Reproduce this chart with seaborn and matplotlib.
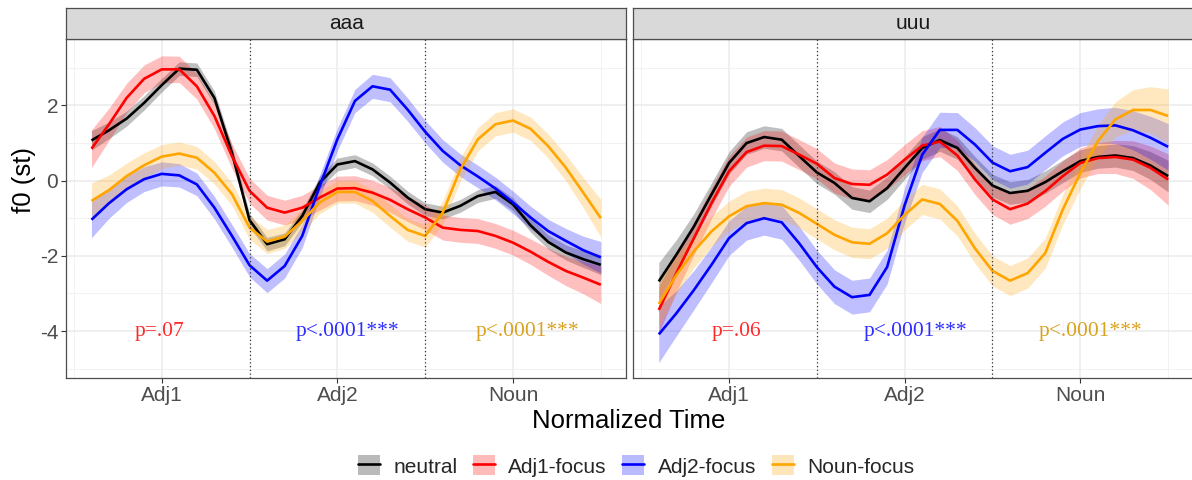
import numpy as np
import pandas as pd
import matplotlib
matplotlib.use("Agg")
import matplotlib.pyplot as plt
import seaborn as sns
from matplotlib.patches import Patch
from matplotlib.lines import Line2D
from matplotlib.legend_handler import HandlerTuple

# ---------------- data ----------------
facets = ["aaa", "uuu"]
focus_levels = ["neutral", "Adj1-focus", "Adj2-focus", "Noun-focus"]
time_points = list(range(1, 31))
tick_positions = [5, 15, 25]
tick_labels = ["Adj1", "Adj2", "Noun"]
boundaries = [10, 20]

aaa_neutral = [1.07, 1.34, 1.65, 2.07, 2.54, 2.98, 2.95, 2.20, 0.74, -1.05,
               -1.69, -1.56, -0.94, -0.05, 0.43, 0.52, 0.30, -0.05, -0.45, -0.76,
               -0.85, -0.67, -0.41, -0.30, -0.63, -1.19, -1.63, -1.91, -2.09, -2.24]
aaa_adj1 = [0.85, 1.50, 2.20, 2.71, 2.96, 2.96, 2.51, 1.72, 0.65, -0.27,
            -0.72, -0.85, -0.72, -0.45, -0.21, -0.20, -0.32, -0.51, -0.76, -0.98,
            -1.25, -1.31, -1.34, -1.47, -1.65, -1.89, -2.16, -2.40, -2.58, -2.77]
aaa_adj2 = [-1.04, -0.60, -0.23, 0.04, 0.18, 0.14, -0.10, -0.72, -1.47, -2.25,
            -2.66, -2.27, -1.47, -0.14, 1.10, 2.12, 2.51, 2.42, 1.89, 1.30,
            0.79, 0.41, 0.11, -0.21, -0.58, -0.98, -1.34, -1.60, -1.85, -2.04]
aaa_noun = [-0.54, -0.25, 0.12, 0.41, 0.64, 0.72, 0.61, 0.21, -0.36, -1.25,
            -1.62, -1.49, -1.07, -0.58, -0.30, -0.30, -0.54, -0.94, -1.31, -1.47,
            -0.85, 0.30, 1.10, 1.50, 1.60, 1.38, 0.92, 0.35, -0.32, -1.00]

uuu_neutral = [-2.68, -1.97, -1.22, -0.37, 0.47, 1.00, 1.16, 1.09, 0.65, 0.22,
               -0.06, -0.46, -0.55, -0.20, 0.34, 0.87, 1.08, 0.87, 0.34, -0.13,
               -0.33, -0.27, -0.04, 0.25, 0.52, 0.63, 0.67, 0.60, 0.40, 0.12]
uuu_adj1 = [-3.44, -2.46, -1.53, -0.60, 0.25, 0.76, 0.93, 0.92, 0.69, 0.45,
            0.07, -0.09, -0.11, 0.16, 0.56, 0.93, 1.04, 0.67, 0.03, -0.50,
            -0.76, -0.61, -0.28, 0.12, 0.47, 0.60, 0.63, 0.56, 0.34, 0.03]
uuu_adj2 = [-4.09, -3.53, -2.91, -2.24, -1.53, -1.13, -1.00, -1.11, -1.67, -2.30,
            -2.82, -3.10, -3.04, -2.30, -0.65, 0.69, 1.35, 1.35, 0.96, 0.48,
            0.25, 0.36, 0.74, 1.11, 1.36, 1.45, 1.47, 1.34, 1.14, 0.90]
uuu_noun = [-3.28, -2.51, -1.88, -1.35, -0.95, -0.68, -0.60, -0.64, -0.86, -1.15,
            -1.44, -1.64, -1.68, -1.40, -0.91, -0.50, -0.62, -1.07, -1.80, -2.40,
            -2.66, -2.46, -1.93, -0.77, 0.20, 1.05, 1.63, 1.88, 1.88, 1.72]

# confidence band half-widths
aaa_neutral_hw = [0.26, 0.22, 0.20, 0.19, 0.18, 0.18, 0.18, 0.18, 0.18, 0.18,
                  0.18, 0.17, 0.17, 0.17, 0.17, 0.17, 0.17, 0.17, 0.17, 0.17,
                  0.17, 0.17, 0.17, 0.17, 0.17, 0.18, 0.19, 0.20, 0.22, 0.26]
aaa_adj1_hw = [0.50, 0.43, 0.39, 0.37, 0.36, 0.35, 0.34, 0.34, 0.33, 0.33,
               0.33, 0.33, 0.33, 0.33, 0.33, 0.33, 0.33, 0.33, 0.33, 0.33,
               0.33, 0.33, 0.33, 0.33, 0.33, 0.34, 0.36, 0.39, 0.43, 0.50]
aaa_adj2_hw = [0.48, 0.40, 0.35, 0.33, 0.32, 0.31, 0.30, 0.30, 0.30, 0.31,
               0.32, 0.32, 0.31, 0.30, 0.30, 0.31, 0.32, 0.32, 0.31, 0.30,
               0.30, 0.30, 0.30, 0.30, 0.30, 0.30, 0.31, 0.33, 0.37, 0.42]
aaa_noun_hw = [0.48, 0.40, 0.35, 0.33, 0.32, 0.31, 0.30, 0.30, 0.30, 0.31,
               0.32, 0.31, 0.30, 0.30, 0.30, 0.30, 0.30, 0.30, 0.30, 0.30,
               0.31, 0.31, 0.31, 0.31, 0.31, 0.31, 0.32, 0.35, 0.40, 0.50]

uuu_neutral_hw = [0.50, 0.40, 0.34, 0.31, 0.30, 0.30, 0.30, 0.30, 0.30, 0.30,
                  0.30, 0.30, 0.30, 0.30, 0.30, 0.30, 0.30, 0.30, 0.30, 0.30,
                  0.30, 0.30, 0.30, 0.30, 0.30, 0.30, 0.31, 0.33, 0.37, 0.42]
uuu_adj1_hw = [0.62, 0.50, 0.44, 0.41, 0.40, 0.40, 0.40, 0.40, 0.40, 0.40,
               0.40, 0.40, 0.40, 0.40, 0.40, 0.40, 0.40, 0.40, 0.40, 0.40,
               0.40, 0.40, 0.40, 0.40, 0.40, 0.41, 0.44, 0.50, 0.58, 0.68]
uuu_adj2_hw = [0.75, 0.60, 0.52, 0.48, 0.46, 0.45, 0.45, 0.45, 0.45, 0.45,
               0.45, 0.45, 0.45, 0.45, 0.46, 0.47, 0.47, 0.46, 0.45, 0.45,
               0.45, 0.45, 0.45, 0.45, 0.45, 0.46, 0.48, 0.52, 0.57, 0.62]
uuu_noun_hw = [0.62, 0.50, 0.44, 0.41, 0.40, 0.40, 0.40, 0.40, 0.40, 0.40,
               0.40, 0.40, 0.40, 0.40, 0.40, 0.40, 0.40, 0.40, 0.40, 0.40,
               0.40, 0.40, 0.40, 0.40, 0.41, 0.43, 0.47, 0.54, 0.62, 0.72]

p_texts = ["p=.07", "p<.0001***", "p<.0001***"]
p_texts_uuu = ["p=.06", "p<.0001***", "p<.0001***"]
p_x_aaa = [4.9, 15.6, 25.8]
p_x_uuu = [5.4, 15.6, 25.6]
p_y = -4.0

line_colors = {"neutral": "#000000", "Adj1-focus": "#FF0000",
               "Adj2-focus": "#0000FF", "Noun-focus": "#FFA500"}
p_colors = ["#FF2A2A", "#2E2EFF", "#D9A21F"]

series = {
    "aaa": {"neutral": (aaa_neutral, aaa_neutral_hw), "Adj1-focus": (aaa_adj1, aaa_adj1_hw),
            "Adj2-focus": (aaa_adj2, aaa_adj2_hw), "Noun-focus": (aaa_noun, aaa_noun_hw)},
    "uuu": {"neutral": (uuu_neutral, uuu_neutral_hw), "Adj1-focus": (uuu_adj1, uuu_adj1_hw),
            "Adj2-focus": (uuu_adj2, uuu_adj2_hw), "Noun-focus": (uuu_noun, uuu_noun_hw)},
}

rows = []
for facet in facets:
    for focus in focus_levels:
        vals, hws = series[facet][focus]
        for t, v, h in zip(time_points, vals, hws):
            for y in (v - h, v, v + h):
                rows.append({"facet": facet, "focus": focus, "t": t, "f0": y})
df = pd.DataFrame(rows)

# ---------------- style ----------------
sns.set_theme(style="white")
plt.rcParams["font.family"] = ["Liberation Sans", "DejaVu Sans"]
plt.rcParams["axes.unicode_minus"] = False

W, H = 1192, 480
fig = plt.figure(figsize=(W / 100, H / 100), dpi=100)

panel_top, panel_bot = 39.3, 378.0
panels_px = [(66.0, 626.3), (633.3, 1193.6)]
strip_top = 8.3

p_xs = {"aaa": p_x_aaa, "uuu": p_x_uuu}
p_txt = {"aaa": p_texts, "uuu": p_texts_uuu}

for i, facet in enumerate(facets):
    x0, x1 = panels_px[i]
    ax = fig.add_axes([x0 / W, 1 - panel_bot / H, (x1 - x0) / W, (panel_bot - panel_top) / H])
    sub = df[df["facet"] == facet]
    sns.lineplot(data=sub, x="t", y="f0", hue="focus", hue_order=focus_levels,
                 palette=line_colors, estimator="median", errorbar=("pi", 100),
                 err_kws={"alpha": 0.25, "linewidth": 0}, linewidth=1.9,
                 solid_joinstyle="round", solid_capstyle="butt",
                 legend=False, ax=ax, zorder=3)
    ax.set_xlim(-0.45, 31.45)
    ax.set_ylim(-5.25, 3.76)
    ax.set_xticks(tick_positions)
    ax.set_xticklabels(tick_labels)
    ax.set_xticks([0, 10, 20, 30], minor=True)
    ax.set_yticks([-4, -2, 0, 2])
    ax.set_yticks([-5, -3, -1, 1, 3], minor=True)
    ax.grid(which="major", color="#EBEBEB", linewidth=1.1, zorder=0)
    ax.grid(which="minor", color="#F0F0F0", linewidth=0.6, zorder=0)
    ax.set_axisbelow(True)
    for b in boundaries:
        ax.axvline(b, color="#333333", linestyle=(0, (1, 2)), linewidth=0.9, zorder=4)
    for sp in ax.spines.values():
        sp.set_color("#4D4D4D")
        sp.set_linewidth(0.9)
    ax.tick_params(axis="x", which="major", length=3.5, width=0.8, color="#333333",
                   labelsize=15, labelcolor="#4D4D4D", pad=2, bottom=True)
    ax.tick_params(which="minor", length=0)
    if i == 0:
        ax.tick_params(axis="y", which="major", length=3.5, width=0.8, color="#333333",
                       labelsize=15, labelcolor="#4D4D4D", pad=2, left=True)
    else:
        ax.tick_params(axis="y", which="major", length=0, labelleft=False)
    ax.set_xlabel("")
    ax.set_ylabel("")
    for xp, txt, col in zip(p_xs[facet], p_txt[facet], p_colors):
        ax.text(xp, p_y, txt, ha="center", va="center", color=col,
                fontsize=15.5, family=["Liberation Serif", "DejaVu Serif"], zorder=5)

    # strip
    sax = fig.add_axes([x0 / W, 1 - panel_top / H, (x1 - x0) / W, (panel_top - strip_top) / H])
    sax.set_facecolor("#D9D9D9")
    sax.set_xticks([])
    sax.set_yticks([])
    for sp in sax.spines.values():
        sp.set_color("#4D4D4D")
        sp.set_linewidth(0.9)
    sax.text(0.5, 0.5, facet, ha="center", va="center", fontsize=15, color="#1A1A1A",
             transform=sax.transAxes)

fig.text(24 / W, 1 - 180 / H, "f0 (st)", rotation=90, ha="center", va="center",
         fontsize=18.5, color="black")
fig.text(629 / W, 1 - 421 / H, "Normalized Time", ha="center", va="center",
         fontsize=18.5, color="black")

handles = []
for focus in focus_levels:
    c = line_colors[focus]
    handles.append((Patch(facecolor=c, alpha=0.27, edgecolor="none"),
                    Line2D([], [], color=c, linewidth=1.9)))
fig.legend(handles, focus_levels, handler_map={tuple: HandlerTuple(ndivide=1, pad=0)},
           loc="center", bbox_to_anchor=(636 / W, 1 - 466 / H), ncol=4, frameon=False,
           fontsize=15, handlelength=1.05, handleheight=1.1, handletextpad=0.65,
           columnspacing=0.75)

fig.savefig("out.png", dpi=100)
